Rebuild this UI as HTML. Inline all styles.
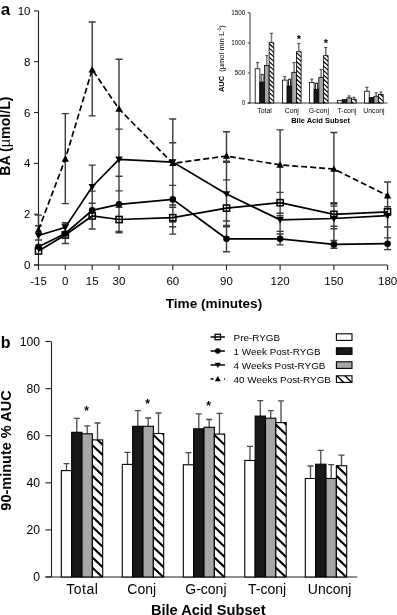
<!DOCTYPE html>
<html><head><meta charset="utf-8"><style>
html,body{margin:0;padding:0;background:#fff;width:397px;height:615px;overflow:hidden}
svg{display:block;filter:blur(0.3px)}
text{font-family:"Liberation Sans", sans-serif;fill:#000}
</style></head><body>
<svg width="397" height="615" viewBox="0 0 397 615">
<rect width="397" height="615" fill="#fff"/>
<defs><clipPath id="c0"><rect x="269.15" y="42.70" width="4.65" height="60.30"/></clipPath><clipPath id="c1"><rect x="296.45" y="51.80" width="4.65" height="51.20"/></clipPath><clipPath id="c2"><rect x="323.45" y="55.70" width="4.65" height="47.30"/></clipPath><clipPath id="c3"><rect x="351.55" y="99.30" width="4.65" height="3.70"/></clipPath><clipPath id="c4"><rect x="378.55" y="94.50" width="4.65" height="8.50"/></clipPath><clipPath id="c5"><rect x="92.35" y="439.90" width="10.35" height="137.10"/></clipPath><clipPath id="c6"><rect x="153.35" y="433.50" width="10.35" height="143.50"/></clipPath><clipPath id="c7"><rect x="214.35" y="434.10" width="10.35" height="142.90"/></clipPath><clipPath id="c8"><rect x="275.85" y="422.60" width="10.35" height="154.40"/></clipPath><clipPath id="c9"><rect x="336.35" y="465.70" width="10.35" height="111.30"/></clipPath><clipPath id="c10"><rect x="336.40" y="375.80" width="15.60" height="6.60"/></clipPath></defs>
<path d="M38.5 10.9V265.5M34 265H387.5" stroke="#222" stroke-width="1.1" fill="none"/>
<path d="M34 265.0H38.5" stroke="#222" stroke-width="1.1"/>
<text x="30.5" y="269.0" text-anchor="end" font-size="11.5">0</text>
<path d="M34 214.2H38.5" stroke="#222" stroke-width="1.1"/>
<text x="30.5" y="218.2" text-anchor="end" font-size="11.5">2</text>
<path d="M34 163.4H38.5" stroke="#222" stroke-width="1.1"/>
<text x="30.5" y="167.4" text-anchor="end" font-size="11.5">4</text>
<path d="M34 112.5H38.5" stroke="#222" stroke-width="1.1"/>
<text x="30.5" y="116.5" text-anchor="end" font-size="11.5">6</text>
<path d="M34 61.7H38.5" stroke="#222" stroke-width="1.1"/>
<text x="30.5" y="65.7" text-anchor="end" font-size="11.5">8</text>
<path d="M34 10.9H38.5" stroke="#222" stroke-width="1.1"/>
<text x="30.5" y="14.9" text-anchor="end" font-size="11.5">10</text>
<path d="M38.5 265V270" stroke="#222" stroke-width="1.1"/>
<text x="38.5" y="285" text-anchor="middle" font-size="11.5">-15</text>
<path d="M65.3 265V270" stroke="#222" stroke-width="1.1"/>
<text x="65.3" y="285" text-anchor="middle" font-size="11.5">0</text>
<path d="M92.2 265V270" stroke="#222" stroke-width="1.1"/>
<text x="92.2" y="285" text-anchor="middle" font-size="11.5">15</text>
<path d="M119.0 265V270" stroke="#222" stroke-width="1.1"/>
<text x="119.0" y="285" text-anchor="middle" font-size="11.5">30</text>
<path d="M172.8 265V270" stroke="#222" stroke-width="1.1"/>
<text x="172.8" y="285" text-anchor="middle" font-size="11.5">60</text>
<path d="M226.5 265V270" stroke="#222" stroke-width="1.1"/>
<text x="226.5" y="285" text-anchor="middle" font-size="11.5">90</text>
<path d="M280.1 265V270" stroke="#222" stroke-width="1.1"/>
<text x="280.1" y="285" text-anchor="middle" font-size="11.5">120</text>
<path d="M333.9 265V270" stroke="#222" stroke-width="1.1"/>
<text x="333.9" y="285" text-anchor="middle" font-size="11.5">150</text>
<path d="M387.6 265V270" stroke="#222" stroke-width="1.1"/>
<text x="387.6" y="285" text-anchor="middle" font-size="11.5">180</text>
<text x="214" y="308.3" text-anchor="middle" font-size="13.6" font-weight="bold">Time (minutes)</text>
<text transform="translate(10.2 136.1) rotate(-90)" text-anchor="middle" font-size="14.2" font-weight="bold">BA (<tspan font-weight="normal">µ</tspan>mol/L)</text>
<text x="0.8" y="14.8" font-size="17" font-weight="bold">a</text>
<path d="M38.5 214.7V240.0M35.0 215.1H42.0M35.0 225.8H42.0M35.0 240.0H42.0" stroke="#3a3a3a" stroke-width="1.4" fill="none"/>
<path d="M65.3 113.6V203.6M65.3 222.7V243.5M61.8 113.6H68.8M61.8 203.6H68.8M61.8 222.7H68.8M61.8 224.5H68.8M61.8 243.5H68.8" stroke="#3a3a3a" stroke-width="1.4" fill="none"/>
<path d="M92.2 22.0V115.9M92.2 165.1V229.0M88.7 22.0H95.7M88.7 115.9H95.7M88.7 165.1H95.7M88.7 191.1H95.7M88.7 203.2H95.7M88.7 229.0H95.7" stroke="#3a3a3a" stroke-width="1.4" fill="none"/>
<path d="M119.0 59.2V232.7M115.5 59.2H122.5M115.5 129.1H122.5M115.5 176.3H122.5M115.5 190.9H122.5M115.5 207.4H122.5M115.5 231.5H122.5M115.5 232.7H122.5" stroke="#3a3a3a" stroke-width="1.4" fill="none"/>
<path d="M172.8 119.0V234.1M169.2 119.0H176.2M169.2 142.7H176.2M169.2 185.4H176.2M169.2 205.0H176.2M169.2 207.3H176.2M169.2 222.0H176.2M169.2 226.8H176.2M169.2 234.1H176.2" stroke="#3a3a3a" stroke-width="1.4" fill="none"/>
<path d="M226.5 131.7V251.7M223.0 131.7H230.0M223.0 161.1H230.0M223.0 162.4H230.0M223.0 179.9H230.0M223.0 221.0H230.0M223.0 225.4H230.0M223.0 226.7H230.0M223.0 251.7H230.0" stroke="#3a3a3a" stroke-width="1.4" fill="none"/>
<path d="M280.1 129.9V244.9M276.6 129.9H283.6M276.6 192.4H283.6M276.6 213.2H283.6M276.6 215.8H283.6M276.6 231.4H283.6M276.6 234.0H283.6M276.6 244.9H283.6" stroke="#3a3a3a" stroke-width="1.4" fill="none"/>
<path d="M333.9 132.5V248.3M330.4 132.5H337.4M330.4 202.8H337.4M330.4 204.1H337.4M330.4 206.1H337.4M330.4 226.2H337.4M330.4 228.8H337.4M330.4 240.5H337.4M330.4 248.3H337.4" stroke="#3a3a3a" stroke-width="1.4" fill="none"/>
<path d="M387.6 182.0V249.6M384.1 182.0H391.1M384.1 206.7H391.1M384.1 227.0H391.1M384.1 237.9H391.1M384.1 249.6H391.1" stroke="#3a3a3a" stroke-width="1.4" fill="none"/>
<polyline points="38.5,229.9 65.3,159.0 92.2,69.6 119.0,109.0 172.8,163.4 226.5,156.0 280.1,164.9 333.9,169.0 387.6,195.6" fill="none" stroke="#000" stroke-width="1.7" stroke-dasharray="6 3"/>
<polyline points="38.5,235.5 65.3,227.4 92.2,186.7 119.0,159.3 172.8,162.1 226.5,194.1 280.1,219.8 333.9,218.5 387.6,215.7" fill="none" stroke="#000" stroke-width="1.7"/>
<polyline points="38.5,246.7 65.3,233.5 92.2,210.4 119.0,204.3 172.8,199.4 226.5,238.8 280.1,238.8 333.9,244.4 387.6,243.7" fill="none" stroke="#000" stroke-width="1.7"/>
<polyline points="38.5,251.0 65.3,235.0 92.2,216.0 119.0,219.5 172.8,217.7 226.5,208.1 280.1,202.7 333.9,214.4 387.6,211.9" fill="none" stroke="#000" stroke-width="1.7"/>
<path d="M38.5 226.2L42.2 232.7L34.8 232.7Z" fill="#000"/>
<path d="M65.3 155.3L69.0 161.8L61.6 161.8Z" fill="#000"/>
<path d="M92.2 65.9L95.9 72.4L88.5 72.4Z" fill="#000"/>
<path d="M119.0 105.3L122.8 111.8L115.3 111.8Z" fill="#000"/>
<path d="M172.8 159.7L176.4 166.1L169.1 166.1Z" fill="#000"/>
<path d="M226.5 152.3L230.2 158.8L222.8 158.8Z" fill="#000"/>
<path d="M280.1 161.2L283.8 167.7L276.4 167.7Z" fill="#000"/>
<path d="M333.9 165.3L337.6 171.7L330.2 171.7Z" fill="#000"/>
<path d="M387.6 191.9L391.2 198.4L383.9 198.4Z" fill="#000"/>
<path d="M38.5 239.2L42.2 232.7L34.8 232.7Z" fill="#000"/>
<path d="M65.3 231.1L69.0 224.6L61.6 224.6Z" fill="#000"/>
<path d="M92.2 190.4L95.9 184.0L88.5 184.0Z" fill="#000"/>
<path d="M119.0 163.0L122.8 156.5L115.3 156.5Z" fill="#000"/>
<path d="M172.8 165.8L176.4 159.3L169.1 159.3Z" fill="#000"/>
<path d="M226.5 197.8L230.2 191.3L222.8 191.3Z" fill="#000"/>
<path d="M280.1 223.5L283.8 217.0L276.4 217.0Z" fill="#000"/>
<path d="M333.9 222.2L337.6 215.7L330.2 215.7Z" fill="#000"/>
<path d="M387.6 219.4L391.2 212.9L383.9 212.9Z" fill="#000"/>
<circle cx="38.5" cy="246.7" r="3.3" fill="#000"/>
<circle cx="65.3" cy="233.5" r="3.3" fill="#000"/>
<circle cx="92.2" cy="210.4" r="3.3" fill="#000"/>
<circle cx="119.0" cy="204.3" r="3.3" fill="#000"/>
<circle cx="172.8" cy="199.4" r="3.3" fill="#000"/>
<circle cx="226.5" cy="238.8" r="3.3" fill="#000"/>
<circle cx="280.1" cy="238.8" r="3.3" fill="#000"/>
<circle cx="333.9" cy="244.4" r="3.3" fill="#000"/>
<circle cx="387.6" cy="243.7" r="3.3" fill="#000"/>
<rect x="35.4" y="247.9" width="6.2" height="6.2" fill="none" stroke="#000" stroke-width="1.5"/>
<rect x="62.2" y="231.9" width="6.2" height="6.2" fill="none" stroke="#000" stroke-width="1.5"/>
<rect x="89.1" y="212.9" width="6.2" height="6.2" fill="none" stroke="#000" stroke-width="1.5"/>
<rect x="116.0" y="216.4" width="6.2" height="6.2" fill="none" stroke="#000" stroke-width="1.5"/>
<rect x="169.7" y="214.6" width="6.2" height="6.2" fill="none" stroke="#000" stroke-width="1.5"/>
<rect x="223.4" y="205.0" width="6.2" height="6.2" fill="none" stroke="#000" stroke-width="1.5"/>
<rect x="277.0" y="199.6" width="6.2" height="6.2" fill="none" stroke="#000" stroke-width="1.5"/>
<rect x="330.8" y="211.3" width="6.2" height="6.2" fill="none" stroke="#000" stroke-width="1.5"/>
<rect x="384.4" y="208.8" width="6.2" height="6.2" fill="none" stroke="#000" stroke-width="1.5"/>
<rect x="213" y="5" width="180" height="120" fill="#fff"/>
<path d="M250 12.8V103.4M247.7 103H387.5" stroke="#222" stroke-width="0.9" fill="none"/>
<path d="M247.7 103.0H250" stroke="#222" stroke-width="0.9"/>
<text x="245.3" y="105.2" text-anchor="end" font-size="6.3">0</text>
<path d="M247.7 73.0H250" stroke="#222" stroke-width="0.9"/>
<text x="245.3" y="75.2" text-anchor="end" font-size="6.3">500</text>
<path d="M247.7 42.9H250" stroke="#222" stroke-width="0.9"/>
<text x="245.3" y="45.1" text-anchor="end" font-size="6.3">1000</text>
<path d="M247.7 12.8H250" stroke="#222" stroke-width="0.9"/>
<text x="245.3" y="15.0" text-anchor="end" font-size="6.3">1500</text>
<text transform="translate(223.8 58.6) rotate(-90)" text-anchor="middle" font-size="7.5"><tspan font-weight="bold">AUC</tspan><tspan dx="4">(</tspan>µmol·min·L<tspan font-size="4.5" dy="-2.5">-1</tspan><tspan dy="2.5">)</tspan></text>
<path d="M257.52 68.8V62.6" stroke="#777" stroke-width="1.5"/><path d="M255.9 62.6H259.1" stroke="#333" stroke-width="0.9"/>
<rect x="255.20" y="68.8" width="4.65" height="34.2" fill="#fff" stroke="#000" stroke-width="0.8"/>
<path d="M262.17 82.1V74.3" stroke="#000" stroke-width="2.8"/><path d="M262.17 82.1V74.9" stroke="#fff" stroke-width="1.2"/><path d="M260.7 74.3H263.7" stroke="#333" stroke-width="0.8"/>
<rect x="259.85" y="82.1" width="4.65" height="20.9" fill="#181818" stroke="#000" stroke-width="0.8"/>
<path d="M266.82 65.5V55.7" stroke="#777" stroke-width="1.5"/><path d="M265.2 55.7H268.4" stroke="#333" stroke-width="0.9"/>
<rect x="264.50" y="65.5" width="4.65" height="37.5" fill="#a6a6a6" stroke="#000" stroke-width="0.8"/>
<path d="M271.47 42.7V33.3" stroke="#777" stroke-width="1.5"/><path d="M269.9 33.3H273.1" stroke="#333" stroke-width="0.9"/>
<g clip-path="url(#c0)"><rect x="269.15" y="42.70" width="4.65" height="60.30" fill="#fff"/><path d="M268.15 29.56L274.80 35.54M268.15 34.00L274.80 39.98M268.15 38.44L274.80 44.42M268.15 42.88L274.80 48.86M268.15 47.32L274.80 53.30M268.15 51.76L274.80 57.74M268.15 56.20L274.80 62.18M268.15 60.64L274.80 66.62M268.15 65.08L274.80 71.06M268.15 69.52L274.80 75.50M268.15 73.96L274.80 79.94M268.15 78.40L274.80 84.38M268.15 82.84L274.80 88.82M268.15 87.28L274.80 93.27M268.15 91.72L274.80 97.71M268.15 96.16L274.80 102.15M268.15 100.60L274.80 106.59M268.15 105.04L274.80 111.03M268.15 109.48L274.80 115.47" stroke="#000" stroke-width="1.15" fill="none"/></g>
<rect x="269.15" y="42.7" width="4.65" height="60.3" fill="none" stroke="#000" stroke-width="0.8"/>
<path d="M284.82 80.1V76.6" stroke="#777" stroke-width="1.5"/><path d="M283.2 76.6H286.4" stroke="#333" stroke-width="0.9"/>
<rect x="282.50" y="80.1" width="4.65" height="22.9" fill="#fff" stroke="#000" stroke-width="0.8"/>
<path d="M289.47 86.0V79.1" stroke="#000" stroke-width="2.8"/><path d="M289.47 86.0V79.7" stroke="#fff" stroke-width="1.2"/><path d="M288.0 79.1H291.0" stroke="#333" stroke-width="0.8"/>
<rect x="287.15" y="86.0" width="4.65" height="17.0" fill="#181818" stroke="#000" stroke-width="0.8"/>
<path d="M294.12 72.3V62.6" stroke="#777" stroke-width="1.5"/><path d="M292.5 62.6H295.7" stroke="#333" stroke-width="0.9"/>
<rect x="291.80" y="72.3" width="4.65" height="30.7" fill="#a6a6a6" stroke="#000" stroke-width="0.8"/>
<path d="M298.77 51.8V43.4" stroke="#777" stroke-width="1.5"/><path d="M297.2 43.4H300.4" stroke="#333" stroke-width="0.9"/>
<g clip-path="url(#c1)"><rect x="296.45" y="51.80" width="4.65" height="51.20" fill="#fff"/><path d="M295.45 38.44L302.10 44.42M295.45 42.88L302.10 48.86M295.45 47.32L302.10 53.30M295.45 51.76L302.10 57.74M295.45 56.20L302.10 62.18M295.45 60.64L302.10 66.62M295.45 65.08L302.10 71.06M295.45 69.52L302.10 75.50M295.45 73.96L302.10 79.94M295.45 78.40L302.10 84.38M295.45 82.84L302.10 88.82M295.45 87.28L302.10 93.27M295.45 91.72L302.10 97.71M295.45 96.16L302.10 102.15M295.45 100.60L302.10 106.59M295.45 105.04L302.10 111.03M295.45 109.48L302.10 115.47" stroke="#000" stroke-width="1.15" fill="none"/></g>
<rect x="296.45" y="51.8" width="4.65" height="51.2" fill="none" stroke="#000" stroke-width="0.8"/>
<text x="298.8" y="42.5" text-anchor="middle" font-size="11" font-weight="bold">*</text>
<path d="M311.82 82.5V79.1" stroke="#777" stroke-width="1.5"/><path d="M310.2 79.1H313.4" stroke="#333" stroke-width="0.9"/>
<rect x="309.50" y="82.5" width="4.65" height="20.5" fill="#fff" stroke="#000" stroke-width="0.8"/>
<path d="M316.47 89.3V83.0" stroke="#000" stroke-width="2.8"/><path d="M316.47 89.3V83.6" stroke="#fff" stroke-width="1.2"/><path d="M315.0 83.0H318.0" stroke="#333" stroke-width="0.8"/>
<rect x="314.15" y="89.3" width="4.65" height="13.7" fill="#181818" stroke="#000" stroke-width="0.8"/>
<path d="M321.12 77.6V69.4" stroke="#777" stroke-width="1.5"/><path d="M319.5 69.4H322.7" stroke="#333" stroke-width="0.9"/>
<rect x="318.80" y="77.6" width="4.65" height="25.4" fill="#a6a6a6" stroke="#000" stroke-width="0.8"/>
<path d="M325.77 55.7V47.5" stroke="#777" stroke-width="1.5"/><path d="M324.2 47.5H327.4" stroke="#333" stroke-width="0.9"/>
<g clip-path="url(#c2)"><rect x="323.45" y="55.70" width="4.65" height="47.30" fill="#fff"/><path d="M322.45 42.88L329.10 48.86M322.45 47.32L329.10 53.30M322.45 51.76L329.10 57.74M322.45 56.20L329.10 62.18M322.45 60.64L329.10 66.62M322.45 65.08L329.10 71.06M322.45 69.52L329.10 75.50M322.45 73.96L329.10 79.94M322.45 78.40L329.10 84.38M322.45 82.84L329.10 88.82M322.45 87.28L329.10 93.27M322.45 91.72L329.10 97.71M322.45 96.16L329.10 102.15M322.45 100.60L329.10 106.59M322.45 105.04L329.10 111.03M322.45 109.48L329.10 115.47" stroke="#000" stroke-width="1.15" fill="none"/></g>
<rect x="323.45" y="55.7" width="4.65" height="47.3" fill="none" stroke="#000" stroke-width="0.8"/>
<text x="325.8" y="47.0" text-anchor="middle" font-size="11" font-weight="bold">*</text>
<rect x="337.60" y="100.4" width="4.65" height="2.6" fill="#fff" stroke="#000" stroke-width="0.8"/>
<rect x="342.25" y="99.6" width="4.65" height="3.4" fill="#181818" stroke="#000" stroke-width="0.8"/>
<path d="M349.23 97.9V95.9" stroke="#777" stroke-width="1.5"/><path d="M347.6 95.9H350.8" stroke="#333" stroke-width="0.9"/>
<rect x="346.90" y="97.9" width="4.65" height="5.1" fill="#a6a6a6" stroke="#000" stroke-width="0.8"/>
<path d="M353.88 99.3V97.3" stroke="#777" stroke-width="1.5"/><path d="M352.3 97.3H355.5" stroke="#333" stroke-width="0.9"/>
<g clip-path="url(#c3)"><rect x="351.55" y="99.30" width="4.65" height="3.70" fill="#fff"/><path d="M350.55 87.28L357.20 93.27M350.55 91.72L357.20 97.71M350.55 96.16L357.20 102.15M350.55 100.60L357.20 106.59M350.55 105.04L357.20 111.03M350.55 109.48L357.20 115.47" stroke="#000" stroke-width="1.15" fill="none"/></g>
<rect x="351.55" y="99.3" width="4.65" height="3.7" fill="none" stroke="#000" stroke-width="0.8"/>
<path d="M366.93 91.2V87.3" stroke="#777" stroke-width="1.5"/><path d="M365.3 87.3H368.5" stroke="#333" stroke-width="0.9"/>
<rect x="364.60" y="91.2" width="4.65" height="11.8" fill="#fff" stroke="#000" stroke-width="0.8"/>
<rect x="369.25" y="97.6" width="4.65" height="5.4" fill="#181818" stroke="#000" stroke-width="0.8"/>
<path d="M376.23 96.2V92.8" stroke="#777" stroke-width="1.5"/><path d="M374.6 92.8H377.8" stroke="#333" stroke-width="0.9"/>
<rect x="373.90" y="96.2" width="4.65" height="6.8" fill="#a6a6a6" stroke="#000" stroke-width="0.8"/>
<path d="M380.88 94.5V92.0" stroke="#777" stroke-width="1.5"/><path d="M379.3 92.0H382.5" stroke="#333" stroke-width="0.9"/>
<g clip-path="url(#c4)"><rect x="378.55" y="94.50" width="4.65" height="8.50" fill="#fff"/><path d="M377.55 82.84L384.20 88.82M377.55 87.28L384.20 93.27M377.55 91.72L384.20 97.71M377.55 96.16L384.20 102.15M377.55 100.60L384.20 106.59M377.55 105.04L384.20 111.03M377.55 109.48L384.20 115.47" stroke="#000" stroke-width="1.15" fill="none"/></g>
<rect x="378.55" y="94.5" width="4.65" height="8.5" fill="none" stroke="#000" stroke-width="0.8"/>
<text x="264.5" y="112.7" text-anchor="middle" font-size="6.9">Total</text>
<text x="291.8" y="112.7" text-anchor="middle" font-size="6.9">Conj</text>
<text x="318.8" y="112.7" text-anchor="middle" font-size="6.9">G-conj</text>
<text x="346.9" y="112.7" text-anchor="middle" font-size="6.9">T-conj</text>
<text x="373.9" y="112.7" text-anchor="middle" font-size="6.9">Unconj</text>
<text x="320.6" y="123" text-anchor="middle" font-size="7.5" font-weight="bold">Bile Acid Subset</text>
<path d="M51.5 342V577.5M45.5 577H357.2" stroke="#222" stroke-width="1.1" fill="none"/>
<path d="M45.5 577.0H51.5" stroke="#222" stroke-width="1.1"/>
<text x="40" y="581.3" text-anchor="end" font-size="12.2">0</text>
<path d="M45.5 529.9H51.5" stroke="#222" stroke-width="1.1"/>
<text x="40" y="534.2" text-anchor="end" font-size="12.2">20</text>
<path d="M45.5 482.8H51.5" stroke="#222" stroke-width="1.1"/>
<text x="40" y="487.1" text-anchor="end" font-size="12.2">40</text>
<path d="M45.5 435.7H51.5" stroke="#222" stroke-width="1.1"/>
<text x="40" y="440.0" text-anchor="end" font-size="12.2">60</text>
<path d="M45.5 388.6H51.5" stroke="#222" stroke-width="1.1"/>
<text x="40" y="392.9" text-anchor="end" font-size="12.2">80</text>
<path d="M45.5 341.5H51.5" stroke="#222" stroke-width="1.1"/>
<text x="40" y="345.8" text-anchor="end" font-size="12.2">100</text>
<text x="0.8" y="347.6" font-size="16" font-weight="bold">b</text>
<text transform="translate(11.3 450.5) rotate(-90)" text-anchor="middle" font-size="14.5" font-weight="bold">90-minute % AUC</text>
<path d="M66.5 470.6V463.6M63.5 463.6H69.5" stroke="#4a4a4a" stroke-width="1.3"/>
<rect x="61.30" y="470.6" width="10.35" height="106.4" fill="#fff" stroke="#000" stroke-width="1.1"/>
<path d="M76.8 432.3V418.3M73.8 418.3H79.8" stroke="#4a4a4a" stroke-width="1.3"/>
<rect x="71.65" y="432.3" width="10.35" height="144.7" fill="#181818" stroke="#000" stroke-width="1.1"/>
<path d="M87.2 433.8V425.8M84.2 425.8H90.2" stroke="#4a4a4a" stroke-width="1.3"/>
<rect x="82.00" y="433.8" width="10.35" height="143.2" fill="#a6a6a6" stroke="#000" stroke-width="1.1"/>
<path d="M97.5 439.9V423.0M94.5 423.0H100.5" stroke="#4a4a4a" stroke-width="1.3"/>
<g clip-path="url(#c5)"><rect x="92.35" y="439.90" width="10.35" height="137.10" fill="#fff"/><path d="M91.35 413.65L103.70 425.38M91.35 423.85L103.70 435.58M91.35 434.05L103.70 445.78M91.35 444.25L103.70 455.98M91.35 454.45L103.70 466.18M91.35 464.65L103.70 476.38M91.35 474.85L103.70 486.58M91.35 485.05L103.70 496.78M91.35 495.25L103.70 506.98M91.35 505.45L103.70 517.18M91.35 515.65L103.70 527.38M91.35 525.85L103.70 537.58M91.35 536.05L103.70 547.78M91.35 546.25L103.70 557.98M91.35 556.45L103.70 568.18M91.35 566.65L103.70 578.38M91.35 576.85L103.70 588.58M91.35 587.05L103.70 598.78" stroke="#000" stroke-width="2.1" fill="none"/></g>
<rect x="92.35" y="439.9" width="10.35" height="137.1" fill="none" stroke="#000" stroke-width="1.1"/>
<text x="86.6" y="415.3" text-anchor="middle" font-size="12" font-weight="bold">*</text>
<path d="M127.5 464.4V452.3M124.5 452.3H130.5" stroke="#4a4a4a" stroke-width="1.3"/>
<rect x="122.30" y="464.4" width="10.35" height="112.6" fill="#fff" stroke="#000" stroke-width="1.1"/>
<path d="M137.8 426.3V410.7M134.8 410.7H140.8" stroke="#4a4a4a" stroke-width="1.3"/>
<rect x="132.65" y="426.3" width="10.35" height="150.7" fill="#181818" stroke="#000" stroke-width="1.1"/>
<path d="M148.2 426.3V418.0M145.2 418.0H151.2" stroke="#4a4a4a" stroke-width="1.3"/>
<rect x="143.00" y="426.3" width="10.35" height="150.7" fill="#a6a6a6" stroke="#000" stroke-width="1.1"/>
<path d="M158.5 433.5V413.0M155.5 413.0H161.5" stroke="#4a4a4a" stroke-width="1.3"/>
<g clip-path="url(#c6)"><rect x="153.35" y="433.50" width="10.35" height="143.50" fill="#fff"/><path d="M152.35 403.45L164.70 415.18M152.35 413.65L164.70 425.38M152.35 423.85L164.70 435.58M152.35 434.05L164.70 445.78M152.35 444.25L164.70 455.98M152.35 454.45L164.70 466.18M152.35 464.65L164.70 476.38M152.35 474.85L164.70 486.58M152.35 485.05L164.70 496.78M152.35 495.25L164.70 506.98M152.35 505.45L164.70 517.18M152.35 515.65L164.70 527.38M152.35 525.85L164.70 537.58M152.35 536.05L164.70 547.78M152.35 546.25L164.70 557.98M152.35 556.45L164.70 568.18M152.35 566.65L164.70 578.38M152.35 576.85L164.70 588.58M152.35 587.05L164.70 598.78" stroke="#000" stroke-width="2.1" fill="none"/></g>
<rect x="153.35" y="433.5" width="10.35" height="143.5" fill="none" stroke="#000" stroke-width="1.1"/>
<text x="147.6" y="408.2" text-anchor="middle" font-size="12" font-weight="bold">*</text>
<path d="M188.5 464.8V452.7M185.5 452.7H191.5" stroke="#4a4a4a" stroke-width="1.3"/>
<rect x="183.30" y="464.8" width="10.35" height="112.2" fill="#fff" stroke="#000" stroke-width="1.1"/>
<path d="M198.8 428.8V413.9M195.8 413.9H201.8" stroke="#4a4a4a" stroke-width="1.3"/>
<rect x="193.65" y="428.8" width="10.35" height="148.2" fill="#181818" stroke="#000" stroke-width="1.1"/>
<path d="M209.2 427.3V419.5M206.2 419.5H212.2" stroke="#4a4a4a" stroke-width="1.3"/>
<rect x="204.00" y="427.3" width="10.35" height="149.7" fill="#a6a6a6" stroke="#000" stroke-width="1.1"/>
<path d="M219.5 434.1V413.4M216.5 413.4H222.5" stroke="#4a4a4a" stroke-width="1.3"/>
<g clip-path="url(#c7)"><rect x="214.35" y="434.10" width="10.35" height="142.90" fill="#fff"/><path d="M213.35 403.45L225.70 415.18M213.35 413.65L225.70 425.38M213.35 423.85L225.70 435.58M213.35 434.05L225.70 445.78M213.35 444.25L225.70 455.98M213.35 454.45L225.70 466.18M213.35 464.65L225.70 476.38M213.35 474.85L225.70 486.58M213.35 485.05L225.70 496.78M213.35 495.25L225.70 506.98M213.35 505.45L225.70 517.18M213.35 515.65L225.70 527.38M213.35 525.85L225.70 537.58M213.35 536.05L225.70 547.78M213.35 546.25L225.70 557.98M213.35 556.45L225.70 568.18M213.35 566.65L225.70 578.38M213.35 576.85L225.70 588.58M213.35 587.05L225.70 598.78" stroke="#000" stroke-width="2.1" fill="none"/></g>
<rect x="214.35" y="434.1" width="10.35" height="142.9" fill="none" stroke="#000" stroke-width="1.1"/>
<text x="208.6" y="410.2" text-anchor="middle" font-size="12" font-weight="bold">*</text>
<path d="M250.0 460.5V446.3M247.0 446.3H253.0" stroke="#4a4a4a" stroke-width="1.3"/>
<rect x="244.80" y="460.5" width="10.35" height="116.5" fill="#fff" stroke="#000" stroke-width="1.1"/>
<path d="M260.3 416.1V400.7M257.3 400.7H263.3" stroke="#4a4a4a" stroke-width="1.3"/>
<rect x="255.15" y="416.1" width="10.35" height="160.9" fill="#181818" stroke="#000" stroke-width="1.1"/>
<path d="M270.7 418.2V410.6M267.7 410.6H273.7" stroke="#4a4a4a" stroke-width="1.3"/>
<rect x="265.50" y="418.2" width="10.35" height="158.8" fill="#a6a6a6" stroke="#000" stroke-width="1.1"/>
<path d="M281.0 422.6V400.8M278.0 400.8H284.0" stroke="#4a4a4a" stroke-width="1.3"/>
<g clip-path="url(#c8)"><rect x="275.85" y="422.60" width="10.35" height="154.40" fill="#fff"/><path d="M274.85 393.25L287.20 404.98M274.85 403.45L287.20 415.18M274.85 413.65L287.20 425.38M274.85 423.85L287.20 435.58M274.85 434.05L287.20 445.78M274.85 444.25L287.20 455.98M274.85 454.45L287.20 466.18M274.85 464.65L287.20 476.38M274.85 474.85L287.20 486.58M274.85 485.05L287.20 496.78M274.85 495.25L287.20 506.98M274.85 505.45L287.20 517.18M274.85 515.65L287.20 527.38M274.85 525.85L287.20 537.58M274.85 536.05L287.20 547.78M274.85 546.25L287.20 557.98M274.85 556.45L287.20 568.18M274.85 566.65L287.20 578.38M274.85 576.85L287.20 588.58M274.85 587.05L287.20 598.78" stroke="#000" stroke-width="2.1" fill="none"/></g>
<rect x="275.85" y="422.6" width="10.35" height="154.4" fill="none" stroke="#000" stroke-width="1.1"/>
<path d="M310.5 478.5V466.0M307.5 466.0H313.5" stroke="#4a4a4a" stroke-width="1.3"/>
<rect x="305.30" y="478.5" width="10.35" height="98.5" fill="#fff" stroke="#000" stroke-width="1.1"/>
<path d="M320.8 464.2V450.3M317.8 450.3H323.8" stroke="#4a4a4a" stroke-width="1.3"/>
<rect x="315.65" y="464.2" width="10.35" height="112.8" fill="#181818" stroke="#000" stroke-width="1.1"/>
<path d="M331.2 478.5V464.6M328.2 464.6H334.2" stroke="#4a4a4a" stroke-width="1.3"/>
<rect x="326.00" y="478.5" width="10.35" height="98.5" fill="#a6a6a6" stroke="#000" stroke-width="1.1"/>
<path d="M341.5 465.7V455.1M338.5 455.1H344.5" stroke="#4a4a4a" stroke-width="1.3"/>
<g clip-path="url(#c9)"><rect x="336.35" y="465.70" width="10.35" height="111.30" fill="#fff"/><path d="M335.35 444.25L347.70 455.98M335.35 454.45L347.70 466.18M335.35 464.65L347.70 476.38M335.35 474.85L347.70 486.58M335.35 485.05L347.70 496.78M335.35 495.25L347.70 506.98M335.35 505.45L347.70 517.18M335.35 515.65L347.70 527.38M335.35 525.85L347.70 537.58M335.35 536.05L347.70 547.78M335.35 546.25L347.70 557.98M335.35 556.45L347.70 568.18M335.35 566.65L347.70 578.38M335.35 576.85L347.70 588.58M335.35 587.05L347.70 598.78" stroke="#000" stroke-width="2.1" fill="none"/></g>
<rect x="336.35" y="465.7" width="10.35" height="111.3" fill="none" stroke="#000" stroke-width="1.1"/>
<text x="82.3" y="594" text-anchor="middle" font-size="14" letter-spacing="0.5">Total</text>
<text x="141.7" y="594" text-anchor="middle" font-size="14">Conj</text>
<text x="205.9" y="594" text-anchor="middle" font-size="14">G-conj</text>
<text x="267.1" y="594" text-anchor="middle" font-size="14">T-conj</text>
<text x="329.6" y="594" text-anchor="middle" font-size="14">Unconj</text>
<text x="208.2" y="615" text-anchor="middle" font-size="14.6" font-weight="bold">Bile Acid Subset</text>
<text x="233.6" y="340.5" font-size="9.9">Pre-RYGB</text>
<path d="M210.6 337H224.9" stroke="#000" stroke-width="1.5"/>
<rect x="215.10000000000002" y="334.3" width="5.4" height="5.4" fill="none" stroke="#000" stroke-width="1.3"/>
<rect x="336.4" y="333.8" width="15.6" height="6.6" fill="#fff" stroke="#000" stroke-width="1.1"/>
<text x="233.6" y="354.5" font-size="9.9">1 Week Post-RYGB</text>
<path d="M210.6 351H224.9" stroke="#000" stroke-width="1.5"/>
<circle cx="217.8" cy="351" r="2.8" fill="#000"/>
<rect x="336.4" y="347.8" width="15.6" height="6.6" fill="#181818" stroke="#000" stroke-width="1.1"/>
<text x="233.6" y="368.5" font-size="9.9">4 Weeks Post-RYGB</text>
<path d="M210.6 365H224.9" stroke="#000" stroke-width="1.5"/>
<path d="M217.8 368.0L220.8 362.8L214.8 362.8Z" fill="#000"/>
<rect x="336.4" y="361.8" width="15.6" height="6.6" fill="#a6a6a6" stroke="#000" stroke-width="1.1"/>
<text x="233.6" y="382.5" font-size="9.9">40 Weeks Post-RYGB</text>
<path d="M210.6 379H213.6M224 379H225" stroke="#000" stroke-width="1.5"/>
<path d="M217.8 376.0L220.8 381.2L214.8 381.2Z" fill="#000"/>
<g clip-path="url(#c10)"><rect x="336.40" y="375.80" width="15.60" height="6.60" fill="#fff"/><path d="M335.40 350.20L353.00 367.80M335.40 358.20L353.00 375.80M335.40 366.20L353.00 383.80M335.40 374.20L353.00 391.80M335.40 382.20L353.00 399.80M335.40 390.20L353.00 407.80" stroke="#000" stroke-width="1.4" fill="none"/></g>
<rect x="336.4" y="375.8" width="15.6" height="6.6" fill="none" stroke="#000" stroke-width="1.1"/>
</svg>
</body></html>
